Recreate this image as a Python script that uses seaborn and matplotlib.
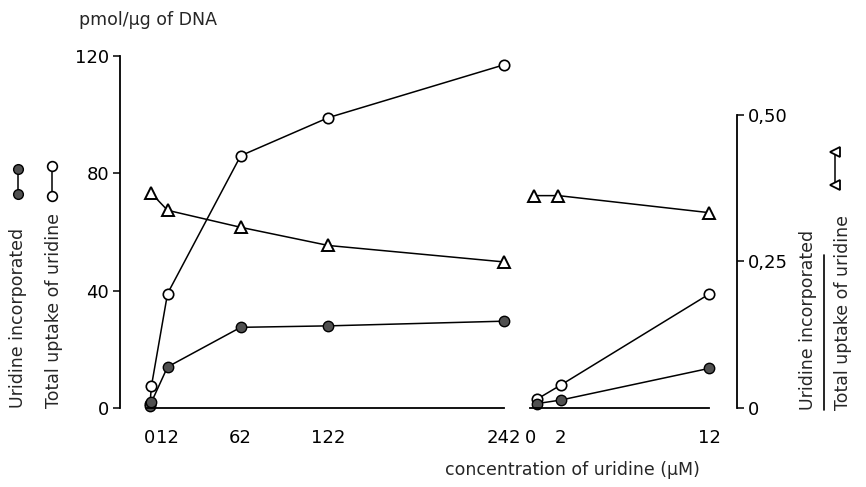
import matplotlib
matplotlib.use("Agg")
import matplotlib.pyplot as plt
import seaborn as sns

sns.set_style("white")
plt.rcParams["font.family"] = ["DejaVu Sans"]

# ---- data ----
conc_a = [0, 1, 12, 62, 122, 242]
total_a = [1.5, 7.5, 39, 86, 99, 117]
incorp_a = [0.8, 2.0, 14.0, 27.5, 28.0, 29.6]
ratio_conc_a = [0.5, 12, 62, 122, 242]
ratio_a = [0.367, 0.337, 0.308, 0.277, 0.249]

conc_b = [0.4, 2, 12]
total_b = [3.0, 7.8, 38.8]
incorp_b = [1.5, 2.7, 13.5]
ratio_conc_b = [0.2, 1.85, 12]
ratio_b = [0.362, 0.362, 0.333]

xticks_a = [0, 12, 62, 122, 242]
xticks_b = [0, 2, 12]
yticks = [0, 40, 80, 120]
rticks = [0, 0.25, 0.5]
rtick_labels = ["0", "0,25", "0,50"]

W, H = 866, 487
fig = plt.figure(figsize=(W / 100, H / 100), dpi=100)


def rect(x0, x1, y0, y1):
    return [x0 / W, 1 - y1 / H, (x1 - x0) / W, (y1 - y0) / H]


FS = 13
LFS = 12.5
LW = 1.1

ax1 = fig.add_axes(rect(120, 504, 56, 408))
ax1.set_xlim(-20.5, 242)
ax1.set_ylim(0, 120)
ax2 = fig.add_axes(rect(531, 737, 56, 408))
ax2.set_xlim(0, 13.89)
ax2.set_ylim(0, 120)
ax1r = ax1.twinx()
ax1r.set_ylim(0, 0.6)
ax2r = ax2.twinx()
ax2r.set_ylim(0, 0.6)

for a in (ax1, ax2, ax1r, ax2r):
    a.set_facecolor("none")
    for s in a.spines.values():
        s.set_visible(False)
        s.set_linewidth(1.3)
        s.set_color("black")
    a.tick_params(direction="out", length=5, width=1.1, labelsize=FS, colors="black")

open_kw = dict(color="black", marker="o", markersize=7.5, markerfacecolor="white",
               markeredgecolor="black", markeredgewidth=1.2, linewidth=LW, clip_on=False,
               sort=False, legend=False)
fill_kw = dict(color="black", marker="o", markersize=7.5, markerfacecolor="#505050",
               markeredgecolor="black", markeredgewidth=1.0, linewidth=LW, clip_on=False,
               sort=False, legend=False)
tri_kw = dict(color="black", marker="^", markersize=8.5, markerfacecolor="white",
              markeredgecolor="black", markeredgewidth=1.4, linewidth=LW, clip_on=False,
              sort=False, legend=False)

sns.lineplot(x=conc_a, y=total_a, ax=ax1, **open_kw)
sns.lineplot(x=conc_a, y=incorp_a, ax=ax1, **fill_kw)
sns.lineplot(x=ratio_conc_a, y=ratio_a, ax=ax1r, **tri_kw)
sns.lineplot(x=conc_b, y=total_b, ax=ax2, **open_kw)
sns.lineplot(x=conc_b, y=incorp_b, ax=ax2, **fill_kw)
sns.lineplot(x=ratio_conc_b, y=ratio_b, ax=ax2r, **tri_kw)

# left panel axes
ax1.spines["left"].set_visible(True)
ax1.spines["left"].set_bounds(0, 120)
ax1.spines["bottom"].set_visible(True)
ax1.spines["bottom"].set_bounds(-2, 242)
ax1.set_xticks(xticks_a)
ax1.set_xticklabels([str(v) for v in xticks_a])
ax1.set_yticks(yticks)
ax1.set_yticklabels([str(v) for v in yticks])
ax1.tick_params(axis="x", pad=10)
ax1.tick_params(axis="y", pad=3)
ax1r.set_yticks([])
ax1r.tick_params(axis="y", length=0)

# right panel axes
ax2.spines["bottom"].set_visible(True)
ax2.spines["bottom"].set_bounds(-0.1, 12)
ax2.set_xticks(xticks_b)
ax2.set_xticklabels([str(v) for v in xticks_b])
ax2.tick_params(axis="x", pad=10)
ax2.set_yticks([])
ax2r.spines["right"].set_visible(True)
ax2r.spines["right"].set_bounds(0, 0.5)
ax2r.set_yticks(rticks)
ax2r.set_yticklabels(rtick_labels)
ax2r.tick_params(axis="y", pad=3)

# texts
fig.text(148 / W, 1 - 20 / H, "pmol/µg of DNA", ha="center", va="center", fontsize=LFS)
fig.text(572 / W, 1 - 470 / H, "concentration of uridine (µM)", ha="center",
         va="center", fontsize=LFS)

ov = fig.add_axes([0, 0, 1, 1])
ov.set_xlim(0, W)
ov.set_ylim(H, 0)
ov.axis("off")
ov.set_zorder(-1)

fig.text(18 / W, 1 - 408 / H, "Uridine incorporated", rotation=90, ha="center",
         va="bottom", fontsize=LFS)
fig.text(54 / W, 1 - 408 / H, "Total uptake of uridine", rotation=90, ha="center",
         va="bottom", fontsize=LFS)
ov.plot([18, 18], [169, 194], color="black", lw=LW, marker="o", markersize=7,
        markerfacecolor="#505050", markeredgecolor="black")
ov.plot([52, 52], [166, 196], color="black", lw=LW, marker="o", markersize=7,
        markerfacecolor="white", markeredgecolor="black", markeredgewidth=1.2)

fig.text(808 / W, 1 - 410 / H, "Uridine incorporated", rotation=90, ha="center",
         va="bottom", fontsize=LFS)
fig.text(843 / W, 1 - 410 / H, "Total uptake of uridine", rotation=90, ha="center",
         va="bottom", fontsize=LFS)
ov.plot([824, 824], [255, 410], color="black", lw=1.2)
ov.plot([835, 835], [152, 185], color="black", lw=LW, marker="<", markersize=7.5,
        markerfacecolor="white", markeredgecolor="black", markeredgewidth=1.3)

fig.savefig("out.png", dpi=100, facecolor="white")
